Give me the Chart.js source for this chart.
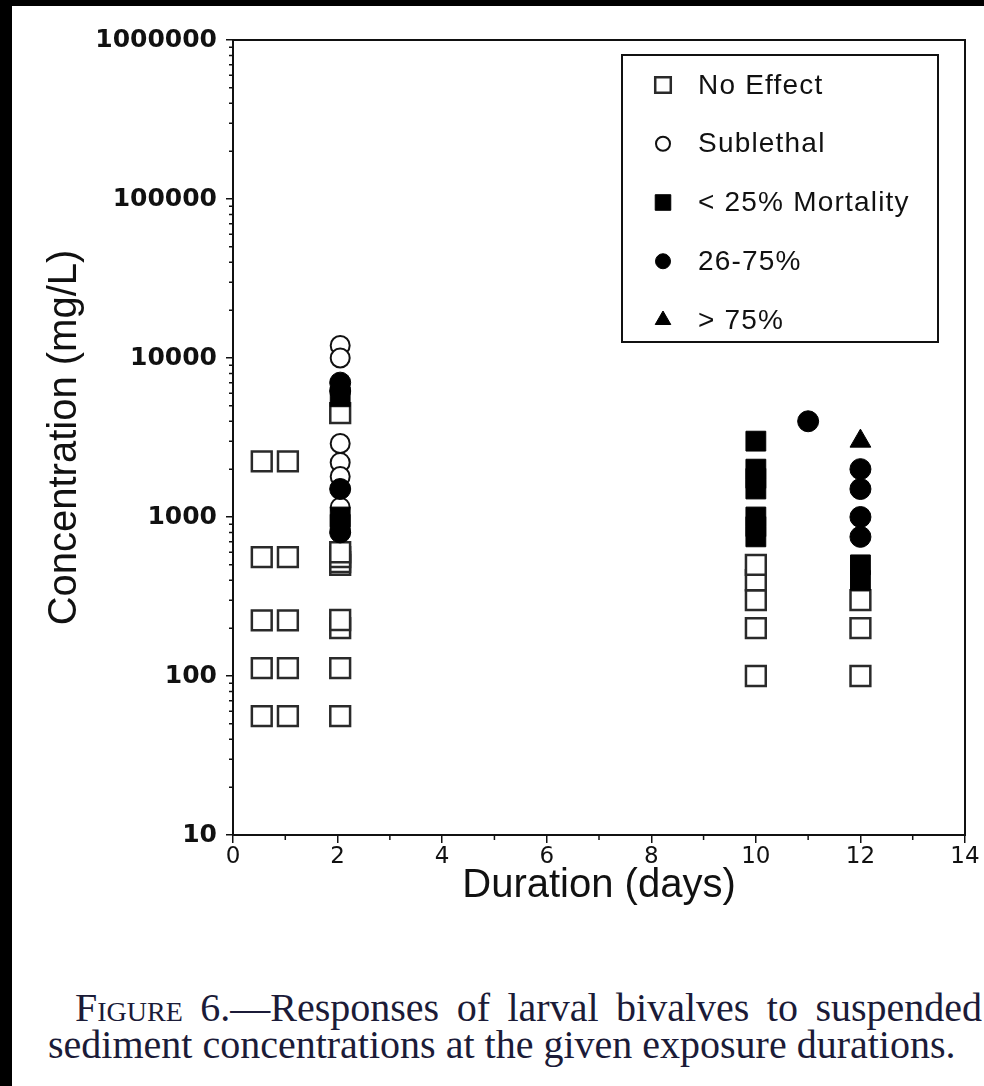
<!DOCTYPE html>
<html>
<head>
<meta charset="utf-8">
<script src="https://cdn.jsdelivr.net/npm/chart.js@4.4.0/dist/chart.umd.min.js"></script>
<style>
  html, body { margin: 0; padding: 0; background: #000; }
  #page { position: absolute; left: 12px; top: 6px; width: 972px; height: 1080px; background: #fff; overflow: hidden; }
  #myChart { position: absolute; left: 0; top: 0; }
  .cap { position: absolute; white-space: nowrap; font-family: 'Liberation Serif', serif; font-size: 40px; line-height: 38px; color: #1b1b38; }
  #cap1 { left: 63px; top: 983px; word-spacing: 7.5px; }
  #cap2 { left: 36px; top: 1020px; }
</style>
</head>
<body>
<div id="page">
  <canvas id="myChart" width="972" height="910"></canvas>
  <div class="cap" id="cap1"><span style="font-variant: small-caps">Figure</span> 6.—Responses of larval bivalves to suspended</div>
  <div class="cap" id="cap2">sediment concentrations at the given exposure durations.</div>
</div>
<script>
"use strict";

// series: duration (days) and concentration (mg/L)
const noEffectDays = [0.55, 0.55, 0.55, 0.55, 0.55, 1.05, 1.05, 1.05, 1.05, 1.05,
    2.05, 2.05, 2.05, 2.05, 2.05, 2.05, 2.05, 2.05, 2.05, 10, 10, 10, 10, 10, 12, 12, 12];
const noEffectConc = [56, 112, 224, 560, 2240, 56, 112, 224, 560, 2240,
    56, 112, 200, 225, 500, 520, 560, 600, 4500, 100, 200, 300, 400, 500, 100, 200, 300];

const sublethalDays = [2.05, 2.05, 2.05, 2.05, 2.05, 2.05];
const sublethalConc = [12000, 10000, 2900, 2200, 1800, 1150];

const mort25Days = [2.05, 2.05, 2.05, 10, 10, 10, 10, 10, 10, 10, 12, 12];
const mort25Conc = [5700, 1000, 900, 750, 870, 1000, 1500, 1750, 2000, 3000, 400, 500];

const mort75Days = [2.05, 2.05, 2.05, 2.05, 11, 12, 12, 12, 12];
const mort75Conc = [7000, 6200, 1500, 800, 4000, 750, 1000, 1500, 2000];

const over75Days = [12];
const over75Conc = [3000];

const seriesLabels = ['No Effect', 'Sublethal', '< 25% Mortality', '26-75%', '> 75%'];
const xTicks = [0, 2, 4, 6, 8, 10, 12, 14];

function toPoints(days, conc) {
    return days.map((d, i) => ({x: d, y: conc[i]}));
}

function isDecade(v) {
    const l = Math.log10(v);
    return Math.abs(l - Math.round(l)) < 1e-9;
}

const legendPlugin = {
    id: 'frameAndLegend',
    afterDraw(chart) {
        const ctx = chart.ctx;
        const a = chart.chartArea;
        const x = chart.scales.x;
        const y = chart.scales.y;
        ctx.save();
        // box round the plot
        ctx.strokeStyle = '#111';
        ctx.lineWidth = 2;
        ctx.strokeRect(a.left, a.top, a.right - a.left, a.bottom - a.top);

        // minor ticks
        ctx.lineWidth = 1.5;
        ctx.beginPath();
        for (let d = 1; d < 14; d += 2) {
            const px = x.getPixelForValue(d);
            ctx.moveTo(px, a.bottom);
            ctx.lineTo(px, a.bottom + 5);
        }
        for (let p = 1; p < 6; p++) {
            for (let m = 2; m < 10; m++) {
                const py = y.getPixelForValue(m * Math.pow(10, p));
                ctx.moveTo(a.left - 4, py);
                ctx.lineTo(a.left, py);
            }
        }
        ctx.stroke();

        // legend
        const bx = 610, by = 49, bw = 316, bh = 287;
        ctx.fillStyle = '#fff';
        ctx.fillRect(bx, by, bw, bh);
        ctx.lineWidth = 2;
        ctx.strokeRect(bx, by, bw, bh);
        ctx.font = '28px "Liberation Sans", Arial, sans-serif';
        ctx.letterSpacing = '1.2px';
        ctx.textBaseline = 'middle';
        chart.data.datasets.forEach(function (ds, i) {
            const ly = by + 30 + i * 58.75;
            ctx.fillStyle = ds.backgroundColor;
            ctx.strokeStyle = ds.borderColor;
            ctx.lineWidth = ds.borderWidth;
            Chart.helpers.drawPoint(ctx, {
                pointStyle: ds.pointStyle,
                radius: ds.legendRadius,
                rotation: 0,
                borderWidth: ds.borderWidth
            }, bx + 41, ly);
            ctx.fillStyle = '#111';
            ctx.fillText(ds.label, bx + 76, ly + 1);
        });
        ctx.restore();
    }
};

const ctx = document.getElementById('myChart');
const myChart = new Chart(ctx, {
    type: 'scatter',
    data: {
        datasets: [{
            label: seriesLabels[0],
            data: toPoints(noEffectDays, noEffectConc),
            pointStyle: 'rect',
            pointRadius: 14,
            legendRadius: 11,
            backgroundColor: '#fff',
            borderColor: '#2a2a2a',
            borderWidth: 2.5,
            order: 5
        }, {
            label: seriesLabels[1],
            data: toPoints(sublethalDays, sublethalConc),
            pointStyle: 'circle',
            pointRadius: 9.5,
            legendRadius: 7,
            backgroundColor: '#fff',
            borderColor: '#111',
            borderWidth: 2,
            order: 4
        }, {
            label: seriesLabels[2],
            data: toPoints(mort25Days, mort25Conc),
            pointStyle: 'rect',
            pointRadius: 14,
            legendRadius: 11,
            backgroundColor: '#000',
            borderColor: '#000',
            borderWidth: 1,
            order: 3
        }, {
            label: seriesLabels[3],
            data: toPoints(mort75Days, mort75Conc),
            pointStyle: 'circle',
            pointRadius: 10.5,
            legendRadius: 7.5,
            backgroundColor: '#000',
            borderColor: '#000',
            borderWidth: 1,
            order: 2
        }, {
            label: seriesLabels[4],
            data: toPoints(over75Days, over75Conc),
            pointStyle: 'triangle',
            pointRadius: 12,
            legendRadius: 9,
            backgroundColor: '#000',
            borderColor: '#000',
            borderWidth: 1,
            order: 1
        }]
    },
    options: {
        responsive: false,
        animation: false,
        events: [],
        layout: {
            padding: {top: 34, right: 19, left: 0, bottom: 0}
        },
        plugins: {
            legend: {display: false},
            tooltip: {enabled: false}
        },
        scales: {
            x: {
                type: 'linear',
                min: 0,
                max: 14,
                afterBuildTicks: function (scale) {
                    scale.ticks = xTicks.map(v => ({value: v}));
                },
                afterFit: function (scale) {
                    scale.height = 81;
                },
                border: {color: '#111', width: 2},
                grid: {drawOnChartArea: false, tickLength: 8, color: '#111', lineWidth: 1.5},
                ticks: {
                    color: '#111',
                    padding: 0,
                    font: {family: '"DejaVu Sans", sans-serif', size: 23}
                },
                title: {
                    display: true,
                    text: 'Duration (days)',
                    color: '#111',
                    padding: {top: 0, bottom: 6},
                    font: {family: '"Liberation Sans", Arial, sans-serif', size: 40}
                }
            },
            y: {
                type: 'logarithmic',
                min: 10,
                max: 1000000,
                afterFit: function (scale) {
                    scale.width = 221;
                },
                border: {color: '#111', width: 2},
                grid: {
                    drawOnChartArea: false,
                    tickLength: 7,
                    lineWidth: 1.5,
                    color: c => (c.tick && isDecade(c.tick.value)) ? '#111' : 'rgba(0,0,0,0)'
                },
                ticks: {
                    autoSkip: false,
                    color: '#111',
                    padding: 9,
                    font: {family: '"DejaVu Sans", sans-serif', size: 25, weight: 'bold'},
                    callback: function (value) {
                        return isDecade(value) ? String(Math.round(value)) : '';
                    }
                },
                title: {
                    display: true,
                    text: 'Concentration (mg/L)',
                    color: '#111',
                    padding: {top: 29, bottom: 0},
                    font: {family: '"Liberation Sans", Arial, sans-serif', size: 40}
                }
            }
        }
    },
    plugins: [legendPlugin]
});
</script>
</body>
</html>
